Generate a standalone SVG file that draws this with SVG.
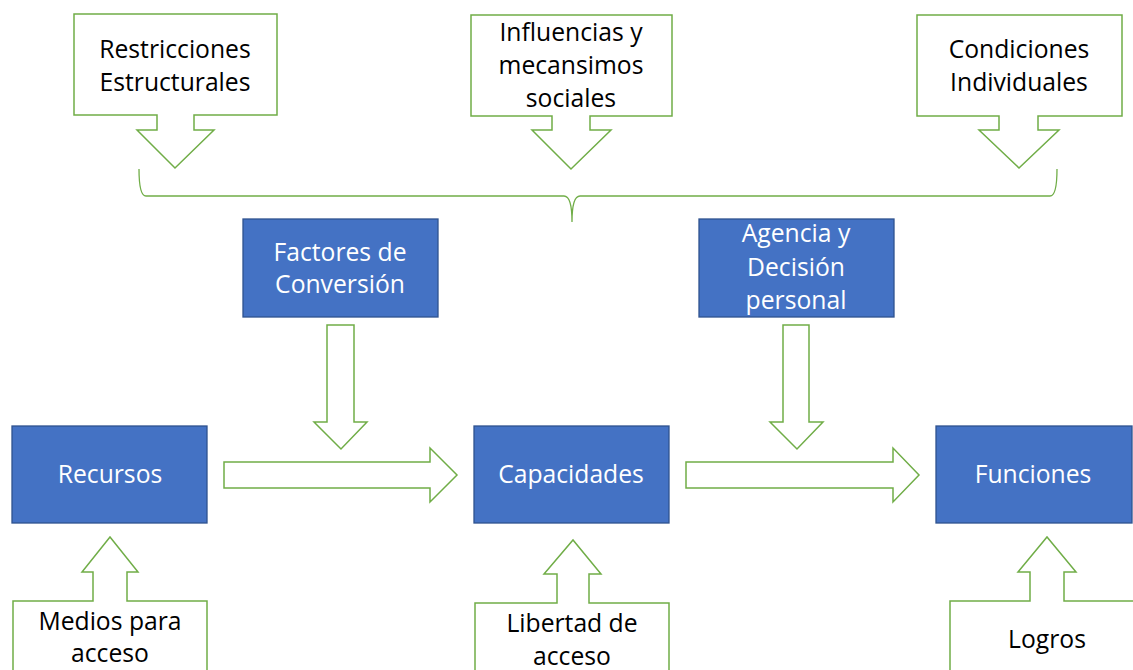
<svg xmlns="http://www.w3.org/2000/svg" width="1133" height="670" viewBox="0 0 1133 670">
<style>
.g{fill:#fff;stroke:#70AD47;stroke-width:1.5;stroke-linejoin:miter}
.b{fill:#4472C4;stroke:#2F528F;stroke-width:1.3}
.t{font-family:"Open Sans","Noto Sans",sans-serif;font-size:24.7px;text-anchor:middle}
.k{fill:#000}
.w{fill:#fff}
.br{fill:none;stroke:#70AD47;stroke-width:1.3}
</style>
<rect width="1133" height="670" fill="#fff"/>
<g id="restricciones">
<path class="g" d="M74,14 H277 V115 H194 V130 H214 L175,168 L137,130 H157 V115 H74 Z"/>
<text class="t k" x="175" y="58">Restricciones</text>
<text class="t k" x="175" y="91">Estructurales</text>
</g>
<g id="influencias">
<path class="g" d="M471,15 H672 V116 H590 V130 H611 L571,169 L532,130 H552 V116 H471 Z"/>
<text class="t k" x="571" y="41">Influencias y</text>
<text class="t k" x="571" y="74">mecansimos</text>
<text class="t k" x="571" y="107">sociales</text>
</g>
<g id="condiciones">
<path class="g" d="M917,15 H1122 V116 H1038 V130 H1059 L1019,168 L979,130 H999 V116 H917 Z"/>
<text class="t k" x="1019" y="58">Condiciones</text>
<text class="t k" x="1019" y="91">Individuales</text>
</g>
<g id="factores">
<rect class="b" x="243" y="219" width="195" height="98"/>
<text class="t w" x="340" y="261">Factores de</text>
<text class="t w" x="340" y="293">Conversión</text>
</g>
<g id="agencia">
<rect class="b" x="699" y="219" width="195" height="98"/>
<text class="t w" x="796" y="242">Agencia y</text>
<text class="t w" x="796" y="276">Decisión</text>
<text class="t w" x="796" y="309">personal</text>
</g>
<g id="recursos">
<rect class="b" x="12" y="426" width="195" height="97"/>
<text class="t w" x="110" y="483">Recursos</text>
</g>
<g id="capacidades">
<rect class="b" x="474" y="426" width="195" height="97"/>
<text class="t w" x="571" y="483">Capacidades</text>
</g>
<g id="funciones">
<rect class="b" x="936" y="426" width="196" height="97"/>
<text class="t w" x="1033" y="483">Funciones</text>
</g>
<g id="medios">
<path class="g" d="M13,672 V601 H93 V572 H82 L110,537 L138,572 H127 V601 H207 V672"/>
<text class="t k" x="110" y="630">Medios para</text>
<text class="t k" x="110" y="662">acceso</text>
</g>
<g id="libertad">
<path class="g" d="M475,672 V603 H557 V574 H544 L573,540 L601,574 H589 V603 H669 V672"/>
<text class="t k" x="572" y="632">Libertad de</text>
<text class="t k" x="572" y="665">acceso</text>
</g>
<g id="logros">
<path class="g" d="M950,672 V601 H1030 V572 H1018 L1047,537 L1076,572 H1064 V601 H1135"/>
<text class="t k" x="1047" y="648">Logros</text>
</g>
<g id="connectors">
<path class="br" d="M139,169 Q139,196 146,196 L564,196 Q572,196 572,222 Q572,196 580,196 L1050,196 Q1057,196 1057,169"/>
<path class="g" d="M327,325 H354 V422 H367 L341,449 L314,422 H327 Z"/>
<path class="g" d="M783,325 H809 V422 H823 L797,449 L770,422 H783 Z"/>
<path class="g" d="M224,462 H430 V448 L457,475 L430,502 V488 H224 Z"/>
<path class="g" d="M686,462 H893 V448 L919,475 L893,502 V488 H686 Z"/>
</g>
</svg>
